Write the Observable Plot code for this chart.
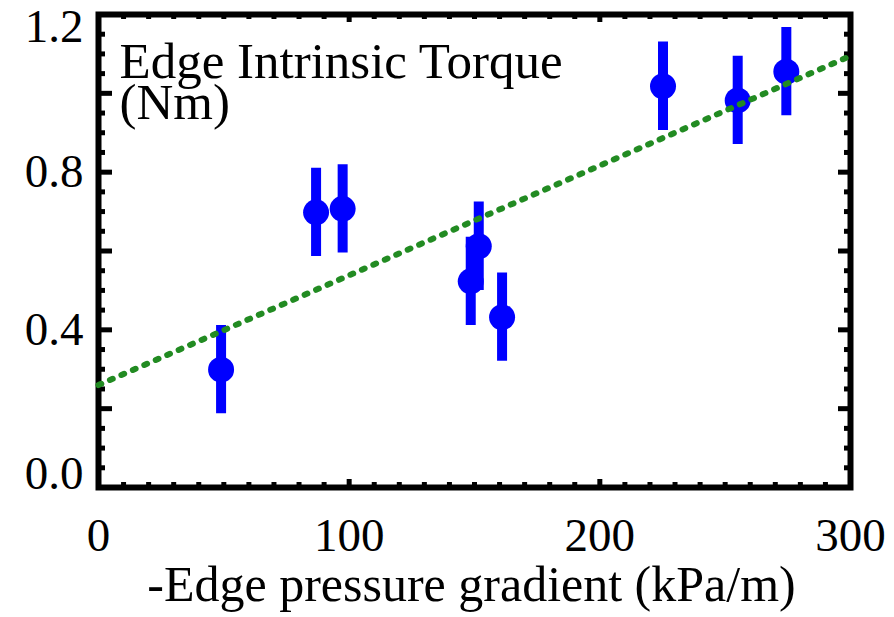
<!DOCTYPE html>
<html>
<head>
<meta charset="utf-8">
<script src="https://cdn.jsdelivr.net/npm/d3@7"></script>
<script src="https://cdn.jsdelivr.net/npm/@observablehq/plot@0.6"></script>
<style>
  html, body { margin: 0; padding: 0; background: #fff; }
  #chart { width: 894px; height: 617px; }
</style>
</head>
<body>
<div id="chart"></div>
<script>
// ---- data ----
const gradient = [48.9, 86.8, 97.4, 148.5, 151.7, 161.0, 225.2, 255.0, 274.4]; // kPa/m
const torque   = [0.299, 0.698, 0.707, 0.523, 0.612, 0.432, 1.018, 0.982, 1.055]; // Nm
const torqueErr = [0.112, 0.112, 0.112, 0.112, 0.112, 0.112, 0.112, 0.112, 0.112];
const fitX = [0, 300];
const fitY = [0.26, 1.095];
const xTicks = [0, 100, 200, 300];
const yTicks = [0.0, 0.4, 0.8, 1.2];
const xTitle = "-Edge pressure gradient (kPa/m)";
const annotation = "Edge Intrinsic Torque\n(Nm)";

const points = gradient.map((g, i) => ({x: g, y: torque[i], lo: torque[i] - torqueErr[i], hi: torque[i] + torqueErr[i]}));
const fit = fitX.map((x, i) => ({x, y: fitY[i]}));

const W = 894, H = 617;
const mL = 98, mR = 44, mT = 14, mB = 130;
const pw = W - mL - mR, ph = H - mT - mB;

const xMinor = d3.range(0, 301, 10).filter(d => d % 100 !== 0);
const xMajor = d3.range(0, 301, 100);
const yMinor = d3.range(0, 25).map(i => +(i * 0.05).toFixed(2)).filter(d => Math.abs(d / 0.2 - Math.round(d / 0.2)) > 1e-6);
const yMajor = d3.range(0, 7).map(i => +(i * 0.2).toFixed(2));

const blue = "#0000ff", green = "#228b22";
const fmt = d => d.toFixed(1);

const chart = Plot.plot({
  width: W, height: H,
  marginLeft: mL, marginRight: mR, marginTop: mT, marginBottom: mB,
  style: {fontFamily: "'Liberation Serif', 'Times New Roman', serif", background: "#fff", color: "#000"},
  x: {domain: [0, 300]},
  y: {domain: [0, 1.2]},
  marks: [
    // tick labels
    Plot.axisX(xTicks, {anchor: "bottom", tickSize: 0, tickPadding: 30, fontSize: 47, label: null, tickFormat: d => String(d)}),
    Plot.axisY([0.4, 0.8], {anchor: "left", tickSize: 0, tickPadding: 15, fontSize: 47, label: null, tickFormat: fmt}),
    Plot.axisY([1.2], {anchor: "left", tickSize: 0, tickPadding: 15, fontSize: 47, label: null, tickFormat: fmt, dy: 12}),
    Plot.axisY([0.0], {anchor: "left", tickSize: 0, tickPadding: 15, fontSize: 47, label: null, tickFormat: fmt, dy: -14}),
    // inward ticks: left & right
    Plot.tickY(yMinor, {y: d => d, insetRight: pw - 7, stroke: "#000", strokeWidth: 5}),
    Plot.tickY(yMajor, {y: d => d, insetRight: pw - 14, stroke: "#000", strokeWidth: 5}),
    Plot.tickY(yMinor, {y: d => d, insetLeft: pw - 6, stroke: "#000", strokeWidth: 5}),
    Plot.tickY(yMajor, {y: d => d, insetLeft: pw - 12, stroke: "#000", strokeWidth: 5}),
    // inward ticks: bottom & top
    Plot.tickX(xMinor, {x: d => d, insetTop: ph - 5, stroke: "#000", strokeWidth: 5}),
    Plot.tickX(xMajor, {x: d => d, insetTop: ph - 8, stroke: "#000", strokeWidth: 5}),
    Plot.tickX(xMinor, {x: d => d, insetBottom: ph - 5, stroke: "#000", strokeWidth: 5}),
    Plot.tickX(xMajor, {x: d => d, insetBottom: ph - 8, stroke: "#000", strokeWidth: 5}),
    Plot.frame({stroke: "#000", strokeWidth: 6}),
    // data
    Plot.ruleX(points, {x: "x", y1: "lo", y2: "hi", stroke: blue, strokeWidth: 10}),
    Plot.dot(points, {x: "x", y: "y", r: 13, fill: blue}),
    Plot.line(fit, {x: "x", y: "y", stroke: green, strokeWidth: 6, strokeDasharray: "3,9.5"}),
    // texts
    Plot.text([annotation], {frameAnchor: "top-left", textAnchor: "start", lineAnchor: "top", dx: 21, dy: 35, fontSize: 51, lineHeight: 0.8, fill: "#000"}),
    Plot.text([xTitle], {frameAnchor: "bottom", textAnchor: "middle", lineAnchor: "middle", dx: -3, dy: 97, fontSize: 50, fill: "#000"})
  ]
});
document.getElementById("chart").appendChild(chart);
</script>
</body>
</html>
